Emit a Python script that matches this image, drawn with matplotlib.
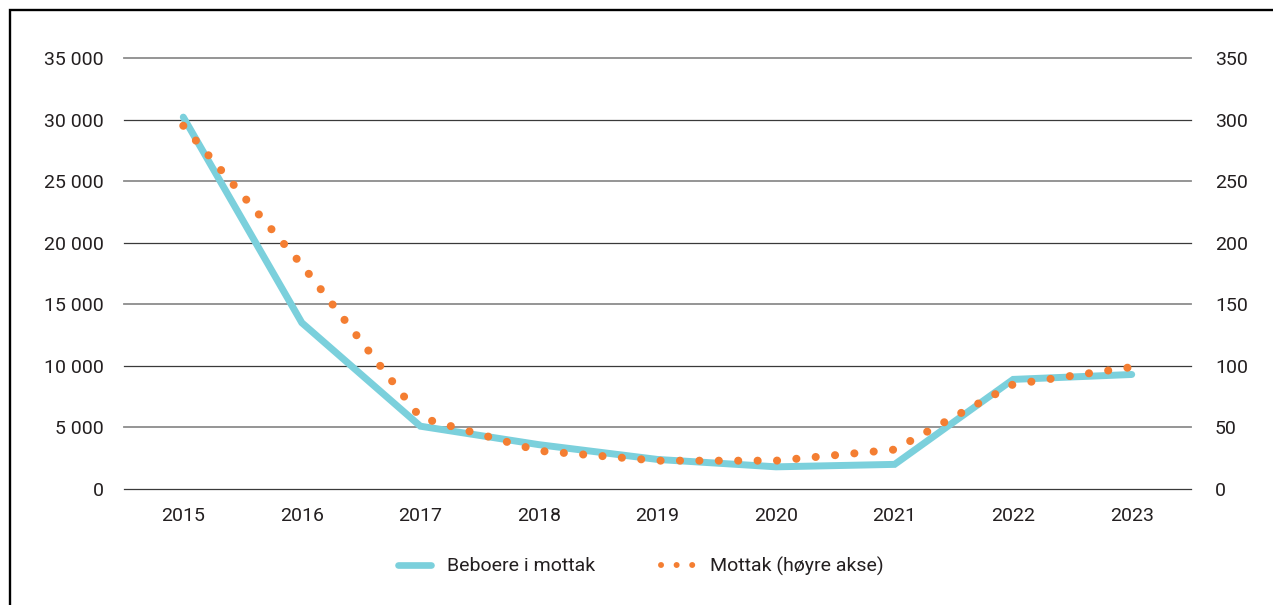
import matplotlib
matplotlib.use("Agg")
import matplotlib.pyplot as plt
from matplotlib.lines import Line2D
from matplotlib.patches import Rectangle
from matplotlib.ticker import FuncFormatter

years = ["2015", "2016", "2017", "2018", "2019", "2020", "2021", "2022", "2023"]
beboere = [30200, 13500, 5100, 3600, 2400, 1800, 2000, 8900, 9300]
mottak = [295, 182, 58, 31, 23, 23, 32, 85, 99]
left_ticks = [0, 5000, 10000, 15000, 20000, 25000, 30000, 35000]
right_ticks = [0, 50, 100, 150, 200, 250, 300, 350]
legend_labels = ["Beboere i mottak", "Mottak (høyre akse)"]

CYAN = "#7BD0DC"
ORANGE = "#F47E32"
TEXT = "#231F20"
FS = 14

plt.rcParams["font.family"] = ["Roboto", "DejaVu Sans"]

fig = plt.figure(figsize=(12.73, 6.05), dpi=100)
W, H = 1273, 605
ax = fig.add_axes([124 / W, 1 - 489 / H, (1191 - 124) / W, (489 - 58) / H])
ax2 = ax.twinx()

x = list(range(len(years)))
ax.plot(x, beboere, color=CYAN, lw=5, solid_capstyle="round",
        solid_joinstyle="miter", zorder=3)
ax2.plot(x, mottak, color=ORANGE, lw=5.8, ls=(0, (0.01, 2.4)),
         dash_capstyle="round", zorder=4)

ax.set_xlim(-0.5, len(years) - 0.5)
ax.set_ylim(0, 35000)
ax2.set_ylim(0, 350)
ax.set_yticks(left_ticks)
ax2.set_yticks(right_ticks)
ax.set_xticks(x)
ax.set_xticklabels(years)

thousands = FuncFormatter(lambda v, p: f"{int(v):,}".replace(",", " "))
ax.yaxis.set_major_formatter(thousands)

# horizontal grid: thin dark rules alternating with softer grey ones
for i, t in enumerate(left_ticks):
    if i % 2 == 0:
        ax.axhline(t, color="#3a3a3a", lw=0.9, zorder=1, clip_on=False)
    else:
        ax.axhline(t, color="#8c8c8c", lw=1.3, zorder=1, clip_on=False)

for a in (ax, ax2):
    for s in a.spines.values():
        s.set_visible(False)
    a.tick_params(length=0, labelsize=FS, labelcolor=TEXT)
ax.tick_params(axis="y", pad=14.4)
ax.tick_params(axis="x", pad=13)
ax2.tick_params(axis="y", pad=17.3)
ax.set_zorder(ax2.get_zorder() - 1)
ax2.patch.set_visible(False)

handles = [
    Line2D([], [], color=CYAN, lw=4.8, solid_capstyle="round"),
    Line2D([], [], color=ORANGE, lw=4.3, ls=(0, (0.01, 2.6)),
           dash_capstyle="round"),
]
fig.legend(handles, legend_labels,
           loc="center", bbox_to_anchor=(641 / W, 1 - 566 / H), ncol=2,
           frameon=False, fontsize=FS, handlelength=1.65, handletextpad=0.85,
           columnspacing=3.4, labelcolor=TEXT)

fig.patches.append(Rectangle((9.5 / W, -0.1), 1.2, 1.1 - 10.5 / H,
                             transform=fig.transFigure, fill=False,
                             edgecolor="black", lw=1.7))

fig.savefig("out.png", dpi=100)
